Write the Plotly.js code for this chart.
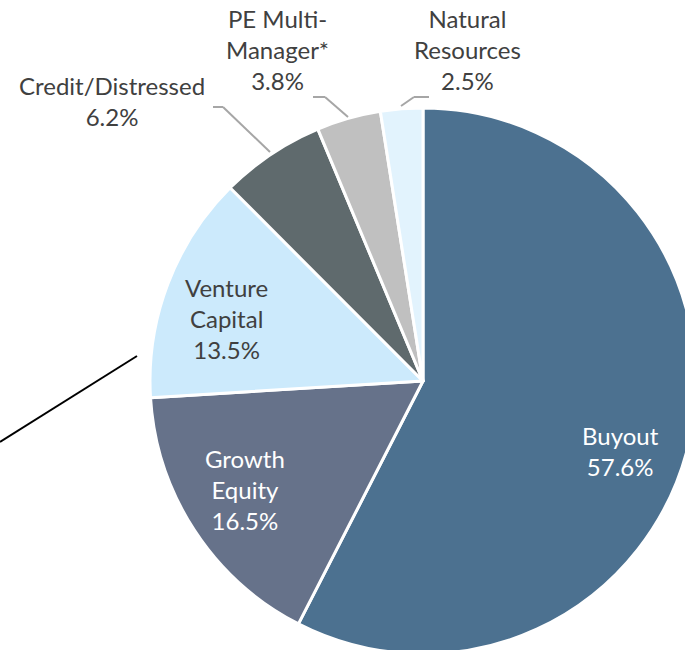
<!DOCTYPE html>
<html>
<head>
<meta charset="utf-8">
<script src="https://cdn.plot.ly/plotly-3.0.1.min.js"></script>
<style>
html,body{margin:0;padding:0;overflow:hidden;background:#fff;}
#chart{width:720px;height:700px;}
</style>
</head>
<body>
<div id="chart"></div>
<script>
// Data
const categories = ["Buyout", "Growth Equity", "Venture Capital", "Credit/Distressed", "PE Multi-Manager*", "Natural Resources"];
const displayLabels = ["Buyout", "Growth<br>Equity", "Venture<br>Capital", "Credit/Distressed", "PE Multi-<br>Manager*", "Natural<br>Resources"];
const shares = [57.6, 16.5, 13.5, 6.2, 3.8, 2.5];
const colors = ["#4C7190", "#66728A", "#CCEAFC", "#5F6A6D", "#C0C0C0", "#E2F3FD"];
const textColors = ["#FFFFFF", "#FFFFFF", "#404040", "#404040", "#404040", "#404040"];

// Layout geometry (pixels)
const W = 720, H = 700;
const cx = 423, cy = 381, R = 273;
const px = x => x / W;
const py = y => 1 - y / H;

// label positions (pixel centres) and leader lines
const labelPos = [[620, 451], [245, 490], [226, 318], [112, 101], [277, 50], [467, 50]];
const leaders = [null, null, null,
  [[213,107],[223,107],[270,152]],
  [[313,97],[325,97],[348,117]],
  [[429,97],[414,97],[401,106]]
];

const annotations = categories.map((c, i) => ({
  xref: 'paper', yref: 'paper',
  x: px(labelPos[i][0]), y: py(labelPos[i][1]),
  xanchor: 'center', yanchor: 'middle',
  text: displayLabels[i] + '<br>' + shares[i].toFixed(1) + '%',
  showarrow: false,
  align: 'center',
  font: {family: 'Lato, "Open Sans", sans-serif', size: 24, color: textColors[i]}
}));

const shapes = [];
leaders.forEach(l => {
  if (!l) return;
  for (let k = 0; k < l.length - 1; k++) {
    shapes.push({type: 'line', xref: 'paper', yref: 'paper',
      x0: px(l[k][0]), y0: py(l[k][1]), x1: px(l[k+1][0]), y1: py(l[k+1][1]),
      line: {color: '#A6A6A6', width: 2}});
  }
});
// stray black line at left
shapes.push({type: 'line', xref: 'paper', yref: 'paper',
  x0: px(0), y0: py(442), x1: px(137), y1: py(356),
  line: {color: '#000000', width: 2}});

const trace = {
  type: 'pie',
  labels: categories,
  values: shares,
  sort: false,
  direction: 'clockwise',
  rotation: 0,
  textinfo: 'none',
  hoverinfo: 'label+percent',
  marker: {colors: colors, line: {color: '#FFFFFF', width: 3}},
  domain: {x: [px(cx - R), px(cx + R)], y: [py(cy + R), py(cy - R)]},
  showlegend: false
};

const layout = {
  width: W, height: H,
  margin: {l: 0, r: 0, t: 0, b: 0},
  paper_bgcolor: '#FFFFFF',
  plot_bgcolor: '#FFFFFF',
  showlegend: false,
  annotations: annotations,
  shapes: shapes
};

Plotly.newPlot('chart', [trace], layout, {displayModeBar: false, staticPlot: true});
</script>
</body>
</html>
